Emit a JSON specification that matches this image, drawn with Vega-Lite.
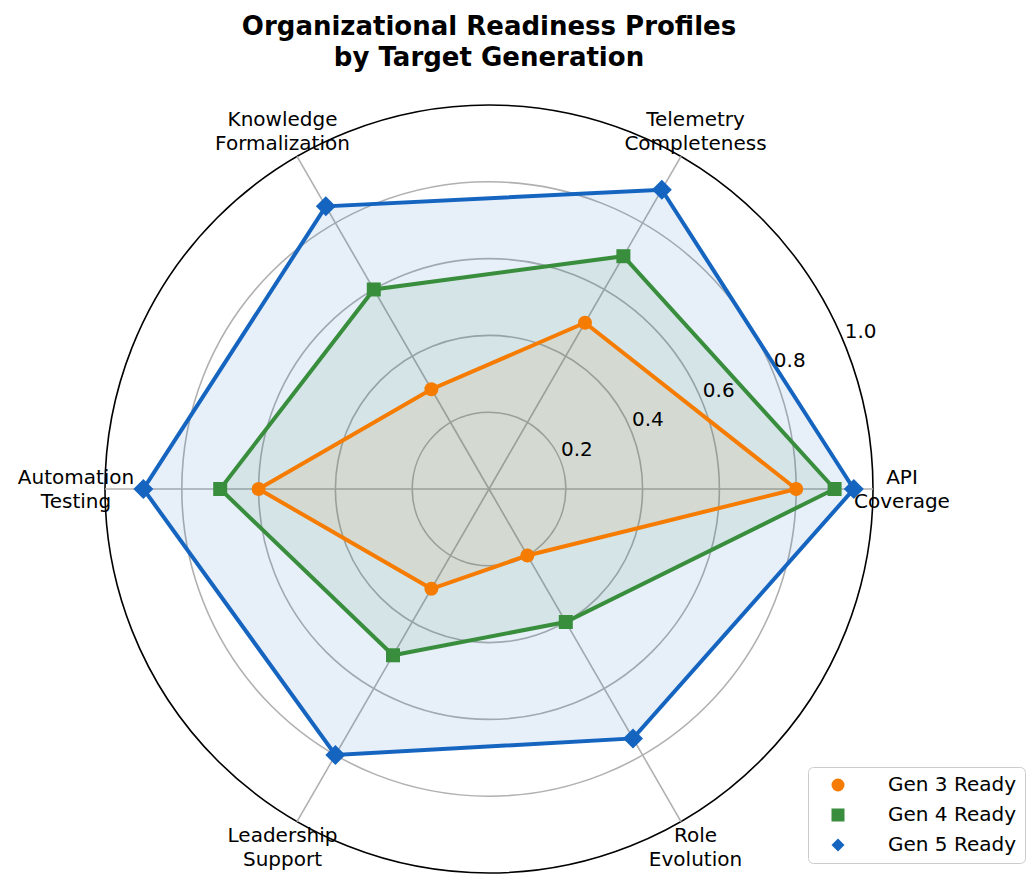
{
  "$schema": "https://vega.github.io/schema/vega-lite/v6.json",
  "width": 768,
  "height": 768,
  "autosize": {"type": "none"},
  "padding": {"left": 105, "top": 105, "right": 159, "bottom": 17},
  "background": "white",
  "config": {
    "view": {"stroke": null},
    "font": "DejaVu Sans",
    "text": {"font": "DejaVu Sans", "color": "black"},
    "legend": {
      "orient": "none",
      "legendX": 703,
      "legendY": 662,
      "labelFont": "DejaVu Sans",
      "labelFontSize": 20,
      "labelColor": "black",
      "symbolSize": 169,
      "symbolStrokeWidth": 0,
      "symbolOffset": 12,
      "labelOffset": 40,
      "rowPadding": 10,
      "padding": 8,
      "strokeColor": "#cccccc",
      "fillColor": "white",
      "cornerRadius": 5
    }
  },
  "title": {
    "text": ["Organizational Readiness Profiles", "by Target Generation"],
    "font": "DejaVu Sans",
    "fontSize": 26,
    "fontWeight": "bold",
    "color": "black",
    "lineHeight": 31,
    "anchor": "middle",
    "offset": 31
  },
  "datasets": {
    "dimensions": [
      {"dimension": "API\nCoverage", "order": 0},
      {"dimension": "Telemetry\nCompleteness", "order": 1},
      {"dimension": "Knowledge\nFormalization", "order": 2},
      {"dimension": "Automation\nTesting", "order": 3},
      {"dimension": "Leadership\nSupport", "order": 4},
      {"dimension": "Role\nEvolution", "order": 5}
    ],
    "rings": [{"r": 0.2}, {"r": 0.4}, {"r": 0.6}, {"r": 0.8}, {"r": 1.0}],
    "readiness": [
      {"profile": "Gen 3 Ready", "dimension": "API\nCoverage", "score": 0.80},
      {"profile": "Gen 3 Ready", "dimension": "Telemetry\nCompleteness", "score": 0.50},
      {"profile": "Gen 3 Ready", "dimension": "Knowledge\nFormalization", "score": 0.30},
      {"profile": "Gen 3 Ready", "dimension": "Automation\nTesting", "score": 0.60},
      {"profile": "Gen 3 Ready", "dimension": "Leadership\nSupport", "score": 0.30},
      {"profile": "Gen 3 Ready", "dimension": "Role\nEvolution", "score": 0.20},
      {"profile": "Gen 4 Ready", "dimension": "API\nCoverage", "score": 0.90},
      {"profile": "Gen 4 Ready", "dimension": "Telemetry\nCompleteness", "score": 0.70},
      {"profile": "Gen 4 Ready", "dimension": "Knowledge\nFormalization", "score": 0.60},
      {"profile": "Gen 4 Ready", "dimension": "Automation\nTesting", "score": 0.70},
      {"profile": "Gen 4 Ready", "dimension": "Leadership\nSupport", "score": 0.50},
      {"profile": "Gen 4 Ready", "dimension": "Role\nEvolution", "score": 0.40},
      {"profile": "Gen 5 Ready", "dimension": "API\nCoverage", "score": 0.95},
      {"profile": "Gen 5 Ready", "dimension": "Telemetry\nCompleteness", "score": 0.90},
      {"profile": "Gen 5 Ready", "dimension": "Knowledge\nFormalization", "score": 0.85},
      {"profile": "Gen 5 Ready", "dimension": "Automation\nTesting", "score": 0.90},
      {"profile": "Gen 5 Ready", "dimension": "Leadership\nSupport", "score": 0.80},
      {"profile": "Gen 5 Ready", "dimension": "Role\nEvolution", "score": 0.75}
    ]
  },
  "resolve": {"scale": {"size": "independent"}},
  "layer": [
    {
      "description": "Concentric grid rings drawn as hollow circles; the outermost one is the frame",
      "data": {"name": "rings"},
      "transform": [{"calculate": "0", "as": "origin"}],
      "mark": {"type": "point", "shape": "circle", "filled": false, "strokeWidth": 1.6, "opacity": 1},
      "encoding": {
        "x": {"field": "origin", "type": "quantitative", "scale": {"domain": [-1, 1], "nice": false, "zero": false}, "axis": null},
        "y": {"field": "origin", "type": "quantitative", "scale": {"domain": [-1, 1], "nice": false, "zero": false}, "axis": null},
        "size": {"field": "r", "type": "quantitative", "scale": {"type": "pow", "exponent": 2, "domain": [0, 1], "range": [0, 589824], "zero": true}, "legend": null},
        "stroke": {"condition": {"test": "datum.r >= 1", "value": "black"}, "value": "#b0b0b0"}
      }
    },
    {
      "description": "Spokes from the centre to each dimension",
      "data": {"name": "dimensions"},
      "transform": [
        {"calculate": "0", "as": "origin"},
        {"calculate": "cos(datum.order * PI / 3)", "as": "ex"},
        {"calculate": "sin(datum.order * PI / 3)", "as": "ey"}
      ],
      "mark": {"type": "rule", "stroke": "#b0b0b0", "strokeWidth": 1.6},
      "encoding": {
        "x": {"field": "origin", "type": "quantitative", "scale": {"domain": [-1, 1], "nice": false, "zero": false}, "axis": null},
        "y": {"field": "origin", "type": "quantitative", "scale": {"domain": [-1, 1], "nice": false, "zero": false}, "axis": null},
        "x2": {"field": "ex"},
        "y2": {"field": "ey"}
      }
    },
    {
      "data": {"name": "readiness"},
      "transform": [
        {"lookup": "dimension", "from": {"data": {"name": "dimensions"}, "key": "dimension", "fields": ["order"]}},
        {"calculate": "datum.score * cos(datum.order * PI / 3)", "as": "px"},
        {"calculate": "datum.score * sin(datum.order * PI / 3)", "as": "py"}
      ],
      "layer": [
        {
          "description": "Translucent fill, Gen 3",
          "transform": [{"filter": "datum.profile === 'Gen 3 Ready'"}],
          "mark": {"type": "line", "interpolate": "linear-closed", "stroke": "transparent", "strokeWidth": 0, "fill": "#f57c00", "fillOpacity": 0.1},
          "encoding": {
            "x": {"field": "px", "type": "quantitative", "scale": {"domain": [-1, 1], "nice": false, "zero": false}, "axis": null},
            "y": {"field": "py", "type": "quantitative", "scale": {"domain": [-1, 1], "nice": false, "zero": false}, "axis": null},
            "order": {"field": "order", "type": "quantitative"}
          }
        },
        {
          "description": "Translucent fill, Gen 4",
          "transform": [{"filter": "datum.profile === 'Gen 4 Ready'"}],
          "mark": {"type": "line", "interpolate": "linear-closed", "stroke": "transparent", "strokeWidth": 0, "fill": "#388e3c", "fillOpacity": 0.1},
          "encoding": {
            "x": {"field": "px", "type": "quantitative", "scale": {"domain": [-1, 1], "nice": false, "zero": false}, "axis": null},
            "y": {"field": "py", "type": "quantitative", "scale": {"domain": [-1, 1], "nice": false, "zero": false}, "axis": null},
            "order": {"field": "order", "type": "quantitative"}
          }
        },
        {
          "description": "Translucent fill, Gen 5",
          "transform": [{"filter": "datum.profile === 'Gen 5 Ready'"}],
          "mark": {"type": "line", "interpolate": "linear-closed", "stroke": "transparent", "strokeWidth": 0, "fill": "#1565c0", "fillOpacity": 0.1},
          "encoding": {
            "x": {"field": "px", "type": "quantitative", "scale": {"domain": [-1, 1], "nice": false, "zero": false}, "axis": null},
            "y": {"field": "py", "type": "quantitative", "scale": {"domain": [-1, 1], "nice": false, "zero": false}, "axis": null},
            "order": {"field": "order", "type": "quantitative"}
          }
        },
        {
          "description": "Polygon outlines",
          "mark": {"type": "line", "interpolate": "linear-closed", "strokeWidth": 4, "strokeJoin": "miter"},
          "encoding": {
            "x": {"field": "px", "type": "quantitative", "scale": {"domain": [-1, 1], "nice": false, "zero": false}, "axis": null},
            "y": {"field": "py", "type": "quantitative", "scale": {"domain": [-1, 1], "nice": false, "zero": false}, "axis": null},
            "order": {"field": "order", "type": "quantitative"},
            "color": {
              "field": "profile", "type": "nominal",
              "scale": {"domain": ["Gen 3 Ready", "Gen 4 Ready", "Gen 5 Ready"], "range": ["#f57c00", "#388e3c", "#1565c0"]}
            }
          }
        },
        {
          "description": "Markers at each dimension score",
          "mark": {"type": "point", "filled": true, "opacity": 1},
          "encoding": {
            "x": {"field": "px", "type": "quantitative", "scale": {"domain": [-1, 1], "nice": false, "zero": false}, "axis": null},
            "y": {"field": "py", "type": "quantitative", "scale": {"domain": [-1, 1], "nice": false, "zero": false}, "axis": null},
            "color": {
              "field": "profile", "type": "nominal",
              "scale": {"domain": ["Gen 3 Ready", "Gen 4 Ready", "Gen 5 Ready"], "range": ["#f57c00", "#388e3c", "#1565c0"]},
              "legend": {"title": null}
            },
            "shape": {
              "field": "profile", "type": "nominal",
              "scale": {"domain": ["Gen 3 Ready", "Gen 4 Ready", "Gen 5 Ready"], "range": ["circle", "square", "diamond"]},
              "legend": null
            },
            "size": {
              "field": "profile", "type": "nominal",
              "scale": {"type": "ordinal", "domain": ["Gen 3 Ready", "Gen 4 Ready", "Gen 5 Ready"], "range": [196, 196, 400]},
              "legend": null
            }
          }
        }
      ]
    },
    {
      "description": "Radial scale labels along 22.5 degrees",
      "data": {"name": "rings"},
      "transform": [
        {"calculate": "datum.r * cos(PI / 8)", "as": "tx"},
        {"calculate": "datum.r * sin(PI / 8)", "as": "ty"}
      ],
      "mark": {"type": "text", "align": "left", "baseline": "bottom", "fontSize": 20, "dx": 1},
      "encoding": {
        "x": {"field": "tx", "type": "quantitative", "scale": {"domain": [-1, 1], "nice": false, "zero": false}, "axis": null},
        "y": {"field": "ty", "type": "quantitative", "scale": {"domain": [-1, 1], "nice": false, "zero": false}, "axis": null},
        "text": {"field": "r", "type": "quantitative", "format": ".1f"}
      }
    },
    {
      "description": "Dimension names just outside the frame",
      "data": {"name": "dimensions"},
      "transform": [
        {"calculate": "1.0755 * cos(datum.order * PI / 3)", "as": "lx"},
        {"calculate": "1.0755 * sin(datum.order * PI / 3)", "as": "ly"}
      ],
      "mark": {"type": "text", "align": "center", "baseline": "middle", "fontSize": 20, "lineBreak": "\n", "lineHeight": 24, "dy": -11},
      "encoding": {
        "x": {"field": "lx", "type": "quantitative", "scale": {"domain": [-1, 1], "nice": false, "zero": false}, "axis": null},
        "y": {"field": "ly", "type": "quantitative", "scale": {"domain": [-1, 1], "nice": false, "zero": false}, "axis": null},
        "text": {"field": "dimension", "type": "nominal"}
      }
    }
  ]
}
